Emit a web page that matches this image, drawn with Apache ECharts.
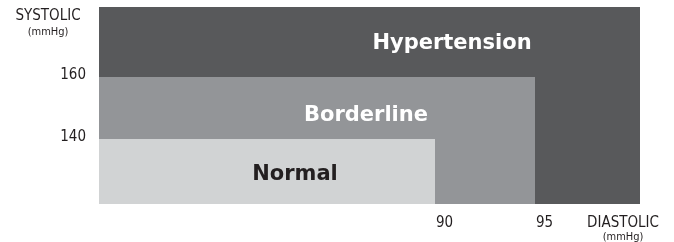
<!DOCTYPE html>
<html>
<head>
<meta charset="utf-8">
<script src="https://cdn.jsdelivr.net/npm/echarts@6/dist/echarts.min.js"></script>
<style>
html,body{margin:0;padding:0;background:#fff;}
#c{width:674px;height:242px;}
</style>
</head>
<body>
<div id="c"></div>
<script>
// Data
const zones = ['Hypertension', 'Borderline', 'Normal'];
const diastolicMax = [100.25, 95, 90];   // upper diastolic bound of each zone (outer zone fills the axis)
const systolicMax = [182.58, 160, 140];  // upper systolic bound of each zone
const xTicks = [90, 95];
const yTicks = [140, 160];
const xRange = [73.2, 100.25];
const yRange = [119.03, 182.58];

// Styles
const fills = ['#58595b', '#939598', '#d1d3d4'];
const textColors = ['#ffffff', '#ffffff', '#231f20'];
const labelOffsets = [[-188, 37], [-169, 39], [-140, 36]]; // px from rect top-right corner
const narrow = '"Liberation Sans Narrow", "DejaVu Sans Condensed", sans-serif';

const chart = echarts.init(document.getElementById('c'), null, {renderer: 'canvas'});
chart.setOption({
  animation: false,
  backgroundColor: '#ffffff',
  grid: {left: 99, right: 34, top: 7, bottom: 38},
  xAxis: {
    type: 'value', min: xRange[0], max: xRange[1],
    axisLine: {show: false}, splitLine: {show: false},
    axisTick: {show: false},
    axisLabel: {
      customValues: xTicks, align: 'left', margin: 12, padding: [0, 0, 0, 1],
      color: '#231f20', fontSize: 15, fontFamily: narrow
    }
  },
  yAxis: {
    type: 'value', min: yRange[0], max: yRange[1],
    axisLine: {show: false}, splitLine: {show: false},
    axisTick: {show: false},
    axisLabel: {
      customValues: yTicks, margin: 13, verticalAlign: 'bottom', lineHeight: 4,
      color: '#231f20', fontSize: 15, fontFamily: narrow
    }
  },
  graphic: [
    {type: 'text', x: 48, y: 16, style: {text: 'SYSTOLIC', fill: '#231f20', font: '15px ' + narrow, align: 'center', verticalAlign: 'middle'}},
    {type: 'text', x: 48, y: 32, style: {text: '(mmHg)', fill: '#231f20', font: '11px ' + narrow, align: 'center', verticalAlign: 'middle'}},
    {type: 'text', x: 623, y: 223, style: {text: 'DIASTOLIC', fill: '#231f20', font: '15px ' + narrow, align: 'center', verticalAlign: 'middle'}},
    {type: 'text', x: 623, y: 237, style: {text: '(mmHg)', fill: '#231f20', font: '11px ' + narrow, align: 'center', verticalAlign: 'middle'}}
  ],
  series: [{
    type: 'custom',
    coordinateSystem: 'cartesian2d',
    data: zones.map((z, i) => [diastolicMax[i], systolicMax[i], i]),
    renderItem: function (params, api) {
      const i = api.value(2);
      const p0 = api.coord([xRange[0], yRange[0]]);
      const p1 = api.coord([api.value(0), api.value(1)]);
      const x = p0[0], y = p1[1], w = p1[0] - p0[0], h = p0[1] - p1[1];
      return {
        type: 'group',
        children: [
          {type: 'rect', shape: {x: x, y: y, width: w, height: h}, style: {fill: fills[i]}},
          {type: 'text', x: p1[0] + labelOffsets[i][0], y: p1[1] + labelOffsets[i][1],
           style: {text: zones[i], fill: textColors[i], font: 'bold 21px "DejaVu Sans", sans-serif', align: 'center', verticalAlign: 'middle'}}
        ]
      };
    }
  }]
});
</script>
</body>
</html>
